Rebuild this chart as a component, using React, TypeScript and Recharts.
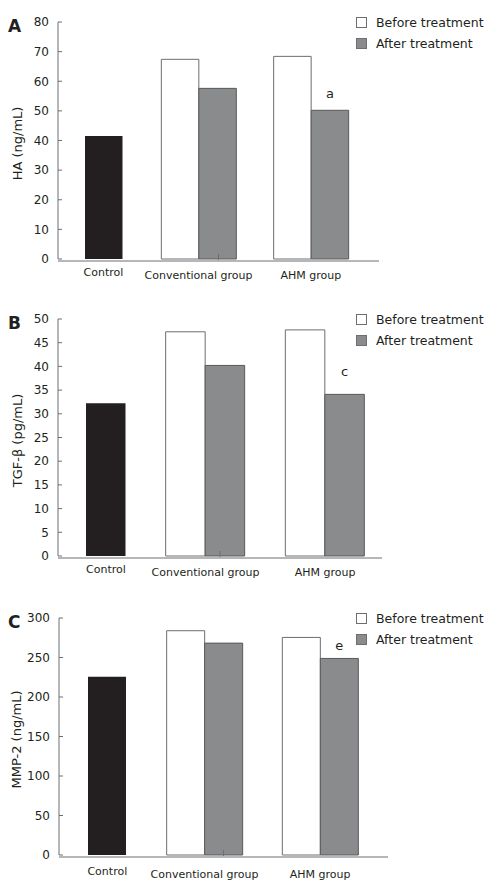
import React from 'react';
import { BarChart, Bar, XAxis, YAxis, Legend, LabelList } from 'recharts';

const FONT = '"DejaVu Sans", Verdana, sans-serif';
const TEXT = '#231f20';
const AXIS = '#6d6e71';

const categories = ['Control', 'Conventional group', 'AHM group'];
const seriesNames = ['Control', 'Before treatment', 'After treatment'];

// Panel A: HA (ng/mL)
const haControl = [41.5, null, null];
const haBefore = [null, 67.4, 68.4];
const haAfter = [null, 57.6, 50.2];
const haMarks = ['', '', 'a'];
const haTicks = [0, 10, 20, 30, 40, 50, 60, 70, 80];

// Panel B: TGF-β (pg/mL)
const tgfControl = [32.2, null, null];
const tgfBefore = [null, 47.3, 47.7];
const tgfAfter = [null, 40.2, 34.1];
const tgfMarks = ['', '', 'c'];
const tgfTicks = [0, 5, 10, 15, 20, 25, 30, 35, 40, 45, 50];

// Panel C: MMP-2 (ng/mL)
const mmpControl = [225.6, null, null];
const mmpBefore = [null, 283.9, 275.4];
const mmpAfter = [null, 268.2, 248.8];
const mmpMarks = ['', '', 'e'];
const mmpTicks = [0, 50, 100, 150, 200, 250, 300];

const buildRows = (control: any[], before: any[], after: any[], marks: string[]) =>
  categories.map((c, i) => ({
    category: c,
    control: control[i],
    before: before[i],
    after: after[i],
    mark: marks[i],
  }));

const renderLegend = (props: any) => {
  const items = (props.payload || [])
    .filter((e: any) => e.type !== 'none' && seriesNames.indexOf(e.value) > 0)
    .sort((a: any, b: any) => seriesNames.indexOf(a.value) - seriesNames.indexOf(b.value));
  return (
    <div style={{ fontFamily: FONT, fontSize: 12.5, color: TEXT }}>
      {items.map((e: any, i: number) => (
        <div key={i} style={{ display: 'flex', alignItems: 'center', height: 21, whiteSpace: 'nowrap' }}>
          <span
            style={{
              display: 'inline-block',
              width: 9,
              height: 9,
              background: e.color,
              border: '1px solid #6d6e71',
              marginRight: 9,
            }}
          />
          <span>{e.value}</span>
        </div>
      ))}
    </div>
  );
};

const YTitle = (props: any) => {
  const vb = props.viewBox || {};
  const cx = (vb.x || 0) + props.offsetX;
  const cy = (vb.y || 0) + (vb.height || 0) / 2 + props.shiftY;
  return (
    <text
      x={cx}
      y={cy}
      transform={`rotate(-90, ${cx}, ${cy})`}
      textAnchor="middle"
      dominantBaseline="central"
      fontSize={13}
      fill={TEXT}
      fontFamily={FONT}
    >
      {props.value}
    </text>
  );
};

type Cfg = {
  top: number;
  height: number;
  margin: { top: number; right: number; bottom: number; left: number };
  yWidth: number;
  mainPad: { left: number; right: number };
  ctrlPad: { left: number; right: number };
  barSize: number;
  labelGap: number;
  markOffset: number;
  titleX: number;
};

function Panel({ cfg, rows, ticks, letter, yLabel }: { cfg: Cfg; rows: any[]; ticks: number[]; letter: string; yLabel: string }) {
  const tickStyle = { fontSize: 11, fill: TEXT, fontFamily: FONT };
  return (
    <div style={{ position: 'absolute', left: 0, top: cfg.top, width: 492, height: cfg.height }}>
      <BarChart width={492} height={cfg.height} data={rows} margin={cfg.margin} barGap={0} barCategoryGap={0}>
        <XAxis
          xAxisId="main"
          dataKey="category"
          height={1}
          padding={cfg.mainPad}
          axisLine={{ stroke: AXIS }}
          tickLine={false}
          tickSize={0}
          tickMargin={cfg.labelGap}
          interval={0}
          tick={tickStyle}
          tickFormatter={(v: string) => (v === 'Control' ? '' : v)}
        />
        <XAxis
          xAxisId="ctrl"
          dataKey="category"
          height={1}
          padding={cfg.ctrlPad}
          axisLine={false}
          tickLine={false}
          tickSize={0}
          tickMargin={cfg.labelGap - 1}
          interval={0}
          tick={tickStyle}
          tickFormatter={(v: string) => (v === 'Control' ? v : '')}
        />
        <XAxis
          xAxisId="end"
          type="number"
          domain={[0, 1]}
          ticks={[1]}
          height={1}
          axisLine={false}
          tickSize={-6}
          tickLine={{ stroke: AXIS }}
          tickFormatter={() => ''}
        />
        <YAxis
          domain={[ticks[0], ticks[ticks.length - 1]]}
          ticks={ticks}
          interval={0}
          width={cfg.yWidth}
          axisLine={{ stroke: AXIS }}
          tickLine={{ stroke: AXIS }}
          tickSize={-4}
          tickMargin={13}
          tick={{ fontSize: 12, fill: TEXT, fontFamily: FONT }}
          label={<YTitle value={yLabel} offsetX={cfg.titleX} shiftY={3} />}
        />
        <Legend
          layout="vertical"
          align="center"
          verticalAlign="middle"
          content={renderLegend}
          wrapperStyle={{ left: 356, top: 12, width: 136, height: 42 }}
        />
        <Bar
          xAxisId="ctrl"
          dataKey="control"
          name={seriesNames[0]}
          fill="#231f20"
          legendType="none"
          barSize={cfg.barSize}
          isAnimationActive={false}
        />
        <Bar
          xAxisId="main"
          dataKey="before"
          name={seriesNames[1]}
          fill="#ffffff"
          stroke="#6d6e71"
          strokeWidth={1}
          barSize={cfg.barSize}
          isAnimationActive={false}
        />
        <Bar
          xAxisId="main"
          dataKey="after"
          name={seriesNames[2]}
          fill="#8a8b8d"
          stroke="#58595b"
          strokeWidth={1}
          barSize={cfg.barSize}
          isAnimationActive={false}
        >
          <LabelList
            dataKey="mark"
            position="top"
            offset={cfg.markOffset}
            style={{ fontSize: 13, fill: TEXT, fontFamily: FONT }}
          />
        </Bar>
      </BarChart>
      <div
        style={{
          position: 'absolute',
          left: 8,
          top: 17.5,
          fontFamily: FONT,
          fontWeight: 'bold',
          fontSize: 17,
          lineHeight: '17px',
          color: TEXT,
        }}
      >
        {letter}
      </div>
    </div>
  );
}

const cfgA: Cfg = {
  top: 0,
  height: 297,
  margin: { top: 22, right: 113, bottom: 35, left: 0 },
  yWidth: 58,
  mainPad: { left: -28, right: 12 },
  ctrlPad: { left: 0, right: 48 },
  barSize: 37.5,
  labelGap: 10,
  markOffset: 12,
  titleX: 17,
};

const cfgB: Cfg = {
  top: 297,
  height: 299,
  margin: { top: 22, right: 110, bottom: 37, left: 0 },
  yWidth: 58,
  mainPad: { left: -32, right: -3 },
  ctrlPad: { left: 0, right: 36 },
  barSize: 39.5,
  labelGap: 10.5,
  markOffset: 18,
  titleX: 17,
};

const cfgC: Cfg = {
  top: 596,
  height: 291,
  margin: { top: 22, right: 104, bottom: 29, left: 0 },
  yWidth: 59,
  mainPad: { left: -28, right: 10 },
  ctrlPad: { left: 0, right: 39 },
  barSize: 38,
  labelGap: 13,
  markOffset: 8,
  titleX: 16,
};

export default function App() {
  return (
    <div style={{ position: 'absolute', left: 0, top: 0, width: 492, height: 887, background: '#fff' }}>
      <Panel cfg={cfgA} rows={buildRows(haControl, haBefore, haAfter, haMarks)} ticks={haTicks} letter="A" yLabel="HA (ng/mL)" />
      <Panel cfg={cfgB} rows={buildRows(tgfControl, tgfBefore, tgfAfter, tgfMarks)} ticks={tgfTicks} letter="B" yLabel="TGF-β (pg/mL)" />
      <Panel cfg={cfgC} rows={buildRows(mmpControl, mmpBefore, mmpAfter, mmpMarks)} ticks={mmpTicks} letter="C" yLabel="MMP-2 (ng/mL)" />
    </div>
  );
}
